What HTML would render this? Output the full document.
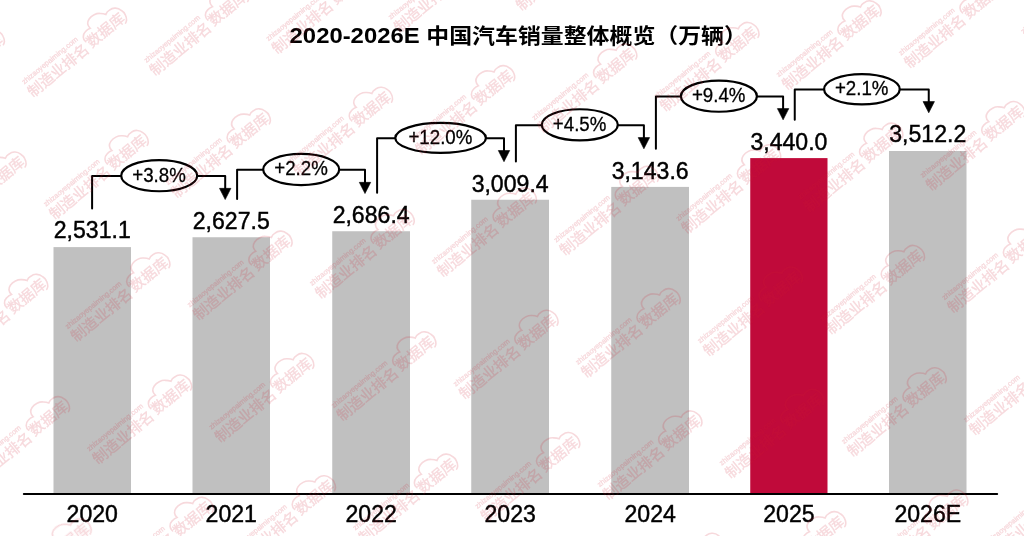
<!DOCTYPE html>
<html lang="zh-CN"><head><meta charset="utf-8">
<title>2020-2026E 中国汽车销量整体概览（万辆）</title>
<style>
html,body{margin:0;padding:0;background:#fff;}
body{width:1024px;height:536px;overflow:hidden;}
svg{display:block;}
text{font-family:"Liberation Sans","Noto Sans CJK SC",sans-serif;}
.v{font-size:23.8px;text-anchor:middle;fill:#000;stroke:#000;stroke-width:.45px;}
.p{font-size:19.7px;text-anchor:middle;fill:#000;stroke:#000;stroke-width:.3px;}
.t{font-weight:700;fill:#000;}
.ln{fill:none;stroke:#000;stroke-width:2;stroke-linejoin:round;stroke-linecap:round;}
.ah{fill:#000;stroke:#000;stroke-width:.6;stroke-linejoin:round;}
.el{fill:#fff;stroke:#000;stroke-width:2.2;}
.wm{fill:#cf2034;opacity:0.17;}
.wm text.a{font-size:14.8px;}
.wm text.u{font-size:7.3px;}
.wm path{fill:none;stroke:#cf2034;stroke-width:1.6;stroke-linecap:round;}
.wm text{stroke:#cf2034;stroke-width:.35px;}
</style></head><body>
<svg width="1024" height="536" viewBox="0 0 1024 536">
<rect width="1024" height="536" fill="#fff"/>
<text class="t" y="42.9"><tspan x="289.6" font-size="22.2" textLength="130" lengthAdjust="spacingAndGlyphs">2020-2026E</tspan><tspan font-size="20.9"> </tspan><tspan x="426.3" font-size="20.9" textLength="320.6" lengthAdjust="spacingAndGlyphs">中国汽车销量整体概览（万辆）</tspan></text>
<rect x="53.5" y="247.1" width="77.5" height="246.4" fill="#c0c0c0"/>
<rect x="192.5" y="237.25" width="77.5" height="256.25" fill="#c0c0c0"/>
<rect x="332.25" y="231.25" width="77.75" height="262.25" fill="#c0c0c0"/>
<rect x="471.25" y="199.75" width="77.75" height="293.75" fill="#c0c0c0"/>
<rect x="611.25" y="186.9" width="77.75" height="306.6" fill="#c0c0c0"/>
<rect x="750.25" y="158.1" width="77.25" height="335.4" fill="#c00a3a"/>
<rect x="889" y="151" width="77.5" height="342.5" fill="#c0c0c0"/>
<line x1="23.9" y1="494" x2="997.1" y2="494" stroke="#000" stroke-width="2.2" stroke-linecap="round"/>
<text class="v" transform="translate(92.25 238.2) scale(0.97 1)">2,531.1</text>
<text class="v" transform="translate(92.25 521.5) scale(0.97 1)">2020</text>
<text class="v" transform="translate(231.25 229.25) scale(0.97 1)">2,627.5</text>
<text class="v" transform="translate(231.25 521.5) scale(0.97 1)">2021</text>
<text class="v" transform="translate(371.12 223.25) scale(0.97 1)">2,686.4</text>
<text class="v" transform="translate(371.12 521.5) scale(0.97 1)">2022</text>
<text class="v" transform="translate(510.12 191.75) scale(0.97 1)">3,009.4</text>
<text class="v" transform="translate(510.12 521.5) scale(0.97 1)">2023</text>
<text class="v" transform="translate(650.12 178.9) scale(0.97 1)">3,143.6</text>
<text class="v" transform="translate(650.12 521.5) scale(0.97 1)">2024</text>
<text class="v" transform="translate(788.88 150.1) scale(0.97 1)">3,440.0</text>
<text class="v" transform="translate(788.88 521.5) scale(0.97 1)">2025</text>
<text class="v" transform="translate(927.75 142) scale(0.97 1)">3,512.2</text>
<text class="v" transform="translate(927.75 521.5) scale(0.97 1)">2026E</text>
<path class="ln" d="M92.1 208.5V175.95H225.2V191.75"/>
<path class="ah" d="M219.5 188.35h11.4l-5.7 11.2z"/>
<ellipse class="el" cx="159.2" cy="175.65" rx="38" ry="15.6"/>
<text class="p" transform="translate(159 181.55) scale(0.95 1)">+3.8%</text>
<path class="ln" d="M237.1 199.1V169.75H365V185.75"/>
<path class="ah" d="M359.3 182.35h11.4l-5.7 11.2z"/>
<ellipse class="el" cx="301.2" cy="169.45" rx="38" ry="15.6"/>
<text class="p" transform="translate(301 175.35) scale(0.95 1)">+2.2%</text>
<path class="ln" d="M377.1 192.85V138.25H504V153.9"/>
<path class="ah" d="M498.3 150.5h11.4l-5.7 11.2z"/>
<ellipse class="el" cx="440.6" cy="137.95" rx="45.3" ry="15"/>
<text class="p" transform="translate(440.4 143.85) scale(0.95 1)">+12.0%</text>
<path class="ln" d="M515.9 161.6V125.15H643.9V141"/>
<path class="ah" d="M638.2 137.6h11.4l-5.7 11.2z"/>
<ellipse class="el" cx="579.8" cy="124.85" rx="38" ry="15.6"/>
<text class="p" transform="translate(579.6 130.75) scale(0.95 1)">+4.5%</text>
<path class="ln" d="M655.9 148.85V96.45H783.1V112"/>
<path class="ah" d="M777.4 108.6h11.4l-5.7 11.2z"/>
<ellipse class="el" cx="718.9" cy="96.15" rx="38" ry="15.6"/>
<text class="p" transform="translate(718.7 102.05) scale(0.95 1)">+9.4%</text>
<path class="ln" d="M794.75 119.7V89.55H928.75V105"/>
<path class="ah" d="M923.05 101.6h11.4l-5.7 11.2z"/>
<ellipse class="el" cx="861.9" cy="89.25" rx="37.8" ry="15.2"/>
<text class="p" transform="translate(861.7 95.15) scale(0.95 1)">+2.1%</text>
<g class="wm">
<g transform="translate(-108.55 -11.5) rotate(-39.3)"><text class="u" x="-5.6" y="-10.6">zhizaoyepaiming.com</text><text class="a" x="-7.4" y="5.3">制造业排名</text><text class="a" x="69.6" y="3.9">数据库</text><path transform="translate(92.1 -1.6)" d="M-23 -3.2C-24 -7 -21 -10.8 -17 -11.2C-15 -11.6 -12.6 -11.4 -11 -10.8C-11.4 -14.5 -9.4 -17.6 -6 -18.6C-2 -19.8 3.5 -18.5 6 -16C7.8 -14.6 9 -13.2 9.9 -11.6C11.5 -12.6 13.5 -13 15.4 -12.6C18 -12.6 20 -11.6 21.2 -10.4C23 -9 24 -7 24.4 -4.7C25.2 -2.6 25.2 -0.8 24.6 1.1C24.2 3 23.4 4.6 22.3 5.9C21.5 6.7 20.6 7.3 19.6 7.6"/></g>
<g transform="translate(-86.85 110.8) rotate(-39.3)"><text class="u" x="-5.6" y="-10.6">zhizaoyepaiming.com</text><text class="a" x="-7.4" y="5.3">制造业排名</text><text class="a" x="69.6" y="3.9">数据库</text><path transform="translate(92.1 -1.6)" d="M-23 -3.2C-24 -7 -21 -10.8 -17 -11.2C-15 -11.6 -12.6 -11.4 -11 -10.8C-11.4 -14.5 -9.4 -17.6 -6 -18.6C-2 -19.8 3.5 -18.5 6 -16C7.8 -14.6 9 -13.2 9.9 -11.6C11.5 -12.6 13.5 -13 15.4 -12.6C18 -12.6 20 -11.6 21.2 -10.4C23 -9 24 -7 24.4 -4.7C25.2 -2.6 25.2 -0.8 24.6 1.1C24.2 3 23.4 4.6 22.3 5.9C21.5 6.7 20.6 7.3 19.6 7.6"/></g>
<g transform="translate(-65.15 233.1) rotate(-39.3)"><text class="u" x="-5.6" y="-10.6">zhizaoyepaiming.com</text><text class="a" x="-7.4" y="5.3">制造业排名</text><text class="a" x="69.6" y="3.9">数据库</text><path transform="translate(92.1 -1.6)" d="M-23 -3.2C-24 -7 -21 -10.8 -17 -11.2C-15 -11.6 -12.6 -11.4 -11 -10.8C-11.4 -14.5 -9.4 -17.6 -6 -18.6C-2 -19.8 3.5 -18.5 6 -16C7.8 -14.6 9 -13.2 9.9 -11.6C11.5 -12.6 13.5 -13 15.4 -12.6C18 -12.6 20 -11.6 21.2 -10.4C23 -9 24 -7 24.4 -4.7C25.2 -2.6 25.2 -0.8 24.6 1.1C24.2 3 23.4 4.6 22.3 5.9C21.5 6.7 20.6 7.3 19.6 7.6"/></g>
<g transform="translate(-43.45 355.4) rotate(-39.3)"><text class="u" x="-5.6" y="-10.6">zhizaoyepaiming.com</text><text class="a" x="-7.4" y="5.3">制造业排名</text><text class="a" x="69.6" y="3.9">数据库</text><path transform="translate(92.1 -1.6)" d="M-23 -3.2C-24 -7 -21 -10.8 -17 -11.2C-15 -11.6 -12.6 -11.4 -11 -10.8C-11.4 -14.5 -9.4 -17.6 -6 -18.6C-2 -19.8 3.5 -18.5 6 -16C7.8 -14.6 9 -13.2 9.9 -11.6C11.5 -12.6 13.5 -13 15.4 -12.6C18 -12.6 20 -11.6 21.2 -10.4C23 -9 24 -7 24.4 -4.7C25.2 -2.6 25.2 -0.8 24.6 1.1C24.2 3 23.4 4.6 22.3 5.9C21.5 6.7 20.6 7.3 19.6 7.6"/></g>
<g transform="translate(-21.75 477.7) rotate(-39.3)"><text class="u" x="-5.6" y="-10.6">zhizaoyepaiming.com</text><text class="a" x="-7.4" y="5.3">制造业排名</text><text class="a" x="69.6" y="3.9">数据库</text><path transform="translate(92.1 -1.6)" d="M-23 -3.2C-24 -7 -21 -10.8 -17 -11.2C-15 -11.6 -12.6 -11.4 -11 -10.8C-11.4 -14.5 -9.4 -17.6 -6 -18.6C-2 -19.8 3.5 -18.5 6 -16C7.8 -14.6 9 -13.2 9.9 -11.6C11.5 -12.6 13.5 -13 15.4 -12.6C18 -12.6 20 -11.6 21.2 -10.4C23 -9 24 -7 24.4 -4.7C25.2 -2.6 25.2 -0.8 24.6 1.1C24.2 3 23.4 4.6 22.3 5.9C21.5 6.7 20.6 7.3 19.6 7.6"/></g>
<g transform="translate(-0.05 600) rotate(-39.3)"><text class="u" x="-5.6" y="-10.6">zhizaoyepaiming.com</text><text class="a" x="-7.4" y="5.3">制造业排名</text><text class="a" x="69.6" y="3.9">数据库</text><path transform="translate(92.1 -1.6)" d="M-23 -3.2C-24 -7 -21 -10.8 -17 -11.2C-15 -11.6 -12.6 -11.4 -11 -10.8C-11.4 -14.5 -9.4 -17.6 -6 -18.6C-2 -19.8 3.5 -18.5 6 -16C7.8 -14.6 9 -13.2 9.9 -11.6C11.5 -12.6 13.5 -13 15.4 -12.6C18 -12.6 20 -11.6 21.2 -10.4C23 -9 24 -7 24.4 -4.7C25.2 -2.6 25.2 -0.8 24.6 1.1C24.2 3 23.4 4.6 22.3 5.9C21.5 6.7 20.6 7.3 19.6 7.6"/></g>
<g transform="translate(35.3 89.2) rotate(-39.3)"><text class="u" x="-5.6" y="-10.6">zhizaoyepaiming.com</text><text class="a" x="-7.4" y="5.3">制造业排名</text><text class="a" x="69.6" y="3.9">数据库</text><path transform="translate(92.1 -1.6)" d="M-23 -3.2C-24 -7 -21 -10.8 -17 -11.2C-15 -11.6 -12.6 -11.4 -11 -10.8C-11.4 -14.5 -9.4 -17.6 -6 -18.6C-2 -19.8 3.5 -18.5 6 -16C7.8 -14.6 9 -13.2 9.9 -11.6C11.5 -12.6 13.5 -13 15.4 -12.6C18 -12.6 20 -11.6 21.2 -10.4C23 -9 24 -7 24.4 -4.7C25.2 -2.6 25.2 -0.8 24.6 1.1C24.2 3 23.4 4.6 22.3 5.9C21.5 6.7 20.6 7.3 19.6 7.6"/></g>
<g transform="translate(57 211.5) rotate(-39.3)"><text class="u" x="-5.6" y="-10.6">zhizaoyepaiming.com</text><text class="a" x="-7.4" y="5.3">制造业排名</text><text class="a" x="69.6" y="3.9">数据库</text><path transform="translate(92.1 -1.6)" d="M-23 -3.2C-24 -7 -21 -10.8 -17 -11.2C-15 -11.6 -12.6 -11.4 -11 -10.8C-11.4 -14.5 -9.4 -17.6 -6 -18.6C-2 -19.8 3.5 -18.5 6 -16C7.8 -14.6 9 -13.2 9.9 -11.6C11.5 -12.6 13.5 -13 15.4 -12.6C18 -12.6 20 -11.6 21.2 -10.4C23 -9 24 -7 24.4 -4.7C25.2 -2.6 25.2 -0.8 24.6 1.1C24.2 3 23.4 4.6 22.3 5.9C21.5 6.7 20.6 7.3 19.6 7.6"/></g>
<g transform="translate(78.7 333.8) rotate(-39.3)"><text class="u" x="-5.6" y="-10.6">zhizaoyepaiming.com</text><text class="a" x="-7.4" y="5.3">制造业排名</text><text class="a" x="69.6" y="3.9">数据库</text><path transform="translate(92.1 -1.6)" d="M-23 -3.2C-24 -7 -21 -10.8 -17 -11.2C-15 -11.6 -12.6 -11.4 -11 -10.8C-11.4 -14.5 -9.4 -17.6 -6 -18.6C-2 -19.8 3.5 -18.5 6 -16C7.8 -14.6 9 -13.2 9.9 -11.6C11.5 -12.6 13.5 -13 15.4 -12.6C18 -12.6 20 -11.6 21.2 -10.4C23 -9 24 -7 24.4 -4.7C25.2 -2.6 25.2 -0.8 24.6 1.1C24.2 3 23.4 4.6 22.3 5.9C21.5 6.7 20.6 7.3 19.6 7.6"/></g>
<g transform="translate(100.4 456.1) rotate(-39.3)"><text class="u" x="-5.6" y="-10.6">zhizaoyepaiming.com</text><text class="a" x="-7.4" y="5.3">制造业排名</text><text class="a" x="69.6" y="3.9">数据库</text><path transform="translate(92.1 -1.6)" d="M-23 -3.2C-24 -7 -21 -10.8 -17 -11.2C-15 -11.6 -12.6 -11.4 -11 -10.8C-11.4 -14.5 -9.4 -17.6 -6 -18.6C-2 -19.8 3.5 -18.5 6 -16C7.8 -14.6 9 -13.2 9.9 -11.6C11.5 -12.6 13.5 -13 15.4 -12.6C18 -12.6 20 -11.6 21.2 -10.4C23 -9 24 -7 24.4 -4.7C25.2 -2.6 25.2 -0.8 24.6 1.1C24.2 3 23.4 4.6 22.3 5.9C21.5 6.7 20.6 7.3 19.6 7.6"/></g>
<g transform="translate(122.1 578.4) rotate(-39.3)"><text class="u" x="-5.6" y="-10.6">zhizaoyepaiming.com</text><text class="a" x="-7.4" y="5.3">制造业排名</text><text class="a" x="69.6" y="3.9">数据库</text><path transform="translate(92.1 -1.6)" d="M-23 -3.2C-24 -7 -21 -10.8 -17 -11.2C-15 -11.6 -12.6 -11.4 -11 -10.8C-11.4 -14.5 -9.4 -17.6 -6 -18.6C-2 -19.8 3.5 -18.5 6 -16C7.8 -14.6 9 -13.2 9.9 -11.6C11.5 -12.6 13.5 -13 15.4 -12.6C18 -12.6 20 -11.6 21.2 -10.4C23 -9 24 -7 24.4 -4.7C25.2 -2.6 25.2 -0.8 24.6 1.1C24.2 3 23.4 4.6 22.3 5.9C21.5 6.7 20.6 7.3 19.6 7.6"/></g>
<g transform="translate(157.45 67.6) rotate(-39.3)"><text class="u" x="-5.6" y="-10.6">zhizaoyepaiming.com</text><text class="a" x="-7.4" y="5.3">制造业排名</text><text class="a" x="69.6" y="3.9">数据库</text><path transform="translate(92.1 -1.6)" d="M-23 -3.2C-24 -7 -21 -10.8 -17 -11.2C-15 -11.6 -12.6 -11.4 -11 -10.8C-11.4 -14.5 -9.4 -17.6 -6 -18.6C-2 -19.8 3.5 -18.5 6 -16C7.8 -14.6 9 -13.2 9.9 -11.6C11.5 -12.6 13.5 -13 15.4 -12.6C18 -12.6 20 -11.6 21.2 -10.4C23 -9 24 -7 24.4 -4.7C25.2 -2.6 25.2 -0.8 24.6 1.1C24.2 3 23.4 4.6 22.3 5.9C21.5 6.7 20.6 7.3 19.6 7.6"/></g>
<g transform="translate(179.15 189.9) rotate(-39.3)"><text class="u" x="-5.6" y="-10.6">zhizaoyepaiming.com</text><text class="a" x="-7.4" y="5.3">制造业排名</text><text class="a" x="69.6" y="3.9">数据库</text><path transform="translate(92.1 -1.6)" d="M-23 -3.2C-24 -7 -21 -10.8 -17 -11.2C-15 -11.6 -12.6 -11.4 -11 -10.8C-11.4 -14.5 -9.4 -17.6 -6 -18.6C-2 -19.8 3.5 -18.5 6 -16C7.8 -14.6 9 -13.2 9.9 -11.6C11.5 -12.6 13.5 -13 15.4 -12.6C18 -12.6 20 -11.6 21.2 -10.4C23 -9 24 -7 24.4 -4.7C25.2 -2.6 25.2 -0.8 24.6 1.1C24.2 3 23.4 4.6 22.3 5.9C21.5 6.7 20.6 7.3 19.6 7.6"/></g>
<g transform="translate(200.85 312.2) rotate(-39.3)"><text class="u" x="-5.6" y="-10.6">zhizaoyepaiming.com</text><text class="a" x="-7.4" y="5.3">制造业排名</text><text class="a" x="69.6" y="3.9">数据库</text><path transform="translate(92.1 -1.6)" d="M-23 -3.2C-24 -7 -21 -10.8 -17 -11.2C-15 -11.6 -12.6 -11.4 -11 -10.8C-11.4 -14.5 -9.4 -17.6 -6 -18.6C-2 -19.8 3.5 -18.5 6 -16C7.8 -14.6 9 -13.2 9.9 -11.6C11.5 -12.6 13.5 -13 15.4 -12.6C18 -12.6 20 -11.6 21.2 -10.4C23 -9 24 -7 24.4 -4.7C25.2 -2.6 25.2 -0.8 24.6 1.1C24.2 3 23.4 4.6 22.3 5.9C21.5 6.7 20.6 7.3 19.6 7.6"/></g>
<g transform="translate(222.55 434.5) rotate(-39.3)"><text class="u" x="-5.6" y="-10.6">zhizaoyepaiming.com</text><text class="a" x="-7.4" y="5.3">制造业排名</text><text class="a" x="69.6" y="3.9">数据库</text><path transform="translate(92.1 -1.6)" d="M-23 -3.2C-24 -7 -21 -10.8 -17 -11.2C-15 -11.6 -12.6 -11.4 -11 -10.8C-11.4 -14.5 -9.4 -17.6 -6 -18.6C-2 -19.8 3.5 -18.5 6 -16C7.8 -14.6 9 -13.2 9.9 -11.6C11.5 -12.6 13.5 -13 15.4 -12.6C18 -12.6 20 -11.6 21.2 -10.4C23 -9 24 -7 24.4 -4.7C25.2 -2.6 25.2 -0.8 24.6 1.1C24.2 3 23.4 4.6 22.3 5.9C21.5 6.7 20.6 7.3 19.6 7.6"/></g>
<g transform="translate(244.25 556.8) rotate(-39.3)"><text class="u" x="-5.6" y="-10.6">zhizaoyepaiming.com</text><text class="a" x="-7.4" y="5.3">制造业排名</text><text class="a" x="69.6" y="3.9">数据库</text><path transform="translate(92.1 -1.6)" d="M-23 -3.2C-24 -7 -21 -10.8 -17 -11.2C-15 -11.6 -12.6 -11.4 -11 -10.8C-11.4 -14.5 -9.4 -17.6 -6 -18.6C-2 -19.8 3.5 -18.5 6 -16C7.8 -14.6 9 -13.2 9.9 -11.6C11.5 -12.6 13.5 -13 15.4 -12.6C18 -12.6 20 -11.6 21.2 -10.4C23 -9 24 -7 24.4 -4.7C25.2 -2.6 25.2 -0.8 24.6 1.1C24.2 3 23.4 4.6 22.3 5.9C21.5 6.7 20.6 7.3 19.6 7.6"/></g>
<g transform="translate(279.6 46) rotate(-39.3)"><text class="u" x="-5.6" y="-10.6">zhizaoyepaiming.com</text><text class="a" x="-7.4" y="5.3">制造业排名</text><text class="a" x="69.6" y="3.9">数据库</text><path transform="translate(92.1 -1.6)" d="M-23 -3.2C-24 -7 -21 -10.8 -17 -11.2C-15 -11.6 -12.6 -11.4 -11 -10.8C-11.4 -14.5 -9.4 -17.6 -6 -18.6C-2 -19.8 3.5 -18.5 6 -16C7.8 -14.6 9 -13.2 9.9 -11.6C11.5 -12.6 13.5 -13 15.4 -12.6C18 -12.6 20 -11.6 21.2 -10.4C23 -9 24 -7 24.4 -4.7C25.2 -2.6 25.2 -0.8 24.6 1.1C24.2 3 23.4 4.6 22.3 5.9C21.5 6.7 20.6 7.3 19.6 7.6"/></g>
<g transform="translate(301.3 168.3) rotate(-39.3)"><text class="u" x="-5.6" y="-10.6">zhizaoyepaiming.com</text><text class="a" x="-7.4" y="5.3">制造业排名</text><text class="a" x="69.6" y="3.9">数据库</text><path transform="translate(92.1 -1.6)" d="M-23 -3.2C-24 -7 -21 -10.8 -17 -11.2C-15 -11.6 -12.6 -11.4 -11 -10.8C-11.4 -14.5 -9.4 -17.6 -6 -18.6C-2 -19.8 3.5 -18.5 6 -16C7.8 -14.6 9 -13.2 9.9 -11.6C11.5 -12.6 13.5 -13 15.4 -12.6C18 -12.6 20 -11.6 21.2 -10.4C23 -9 24 -7 24.4 -4.7C25.2 -2.6 25.2 -0.8 24.6 1.1C24.2 3 23.4 4.6 22.3 5.9C21.5 6.7 20.6 7.3 19.6 7.6"/></g>
<g transform="translate(323 290.6) rotate(-39.3)"><text class="u" x="-5.6" y="-10.6">zhizaoyepaiming.com</text><text class="a" x="-7.4" y="5.3">制造业排名</text><text class="a" x="69.6" y="3.9">数据库</text><path transform="translate(92.1 -1.6)" d="M-23 -3.2C-24 -7 -21 -10.8 -17 -11.2C-15 -11.6 -12.6 -11.4 -11 -10.8C-11.4 -14.5 -9.4 -17.6 -6 -18.6C-2 -19.8 3.5 -18.5 6 -16C7.8 -14.6 9 -13.2 9.9 -11.6C11.5 -12.6 13.5 -13 15.4 -12.6C18 -12.6 20 -11.6 21.2 -10.4C23 -9 24 -7 24.4 -4.7C25.2 -2.6 25.2 -0.8 24.6 1.1C24.2 3 23.4 4.6 22.3 5.9C21.5 6.7 20.6 7.3 19.6 7.6"/></g>
<g transform="translate(344.7 412.9) rotate(-39.3)"><text class="u" x="-5.6" y="-10.6">zhizaoyepaiming.com</text><text class="a" x="-7.4" y="5.3">制造业排名</text><text class="a" x="69.6" y="3.9">数据库</text><path transform="translate(92.1 -1.6)" d="M-23 -3.2C-24 -7 -21 -10.8 -17 -11.2C-15 -11.6 -12.6 -11.4 -11 -10.8C-11.4 -14.5 -9.4 -17.6 -6 -18.6C-2 -19.8 3.5 -18.5 6 -16C7.8 -14.6 9 -13.2 9.9 -11.6C11.5 -12.6 13.5 -13 15.4 -12.6C18 -12.6 20 -11.6 21.2 -10.4C23 -9 24 -7 24.4 -4.7C25.2 -2.6 25.2 -0.8 24.6 1.1C24.2 3 23.4 4.6 22.3 5.9C21.5 6.7 20.6 7.3 19.6 7.6"/></g>
<g transform="translate(366.4 535.2) rotate(-39.3)"><text class="u" x="-5.6" y="-10.6">zhizaoyepaiming.com</text><text class="a" x="-7.4" y="5.3">制造业排名</text><text class="a" x="69.6" y="3.9">数据库</text><path transform="translate(92.1 -1.6)" d="M-23 -3.2C-24 -7 -21 -10.8 -17 -11.2C-15 -11.6 -12.6 -11.4 -11 -10.8C-11.4 -14.5 -9.4 -17.6 -6 -18.6C-2 -19.8 3.5 -18.5 6 -16C7.8 -14.6 9 -13.2 9.9 -11.6C11.5 -12.6 13.5 -13 15.4 -12.6C18 -12.6 20 -11.6 21.2 -10.4C23 -9 24 -7 24.4 -4.7C25.2 -2.6 25.2 -0.8 24.6 1.1C24.2 3 23.4 4.6 22.3 5.9C21.5 6.7 20.6 7.3 19.6 7.6"/></g>
<g transform="translate(401.75 24.4) rotate(-39.3)"><text class="u" x="-5.6" y="-10.6">zhizaoyepaiming.com</text><text class="a" x="-7.4" y="5.3">制造业排名</text><text class="a" x="69.6" y="3.9">数据库</text><path transform="translate(92.1 -1.6)" d="M-23 -3.2C-24 -7 -21 -10.8 -17 -11.2C-15 -11.6 -12.6 -11.4 -11 -10.8C-11.4 -14.5 -9.4 -17.6 -6 -18.6C-2 -19.8 3.5 -18.5 6 -16C7.8 -14.6 9 -13.2 9.9 -11.6C11.5 -12.6 13.5 -13 15.4 -12.6C18 -12.6 20 -11.6 21.2 -10.4C23 -9 24 -7 24.4 -4.7C25.2 -2.6 25.2 -0.8 24.6 1.1C24.2 3 23.4 4.6 22.3 5.9C21.5 6.7 20.6 7.3 19.6 7.6"/></g>
<g transform="translate(423.45 146.7) rotate(-39.3)"><text class="u" x="-5.6" y="-10.6">zhizaoyepaiming.com</text><text class="a" x="-7.4" y="5.3">制造业排名</text><text class="a" x="69.6" y="3.9">数据库</text><path transform="translate(92.1 -1.6)" d="M-23 -3.2C-24 -7 -21 -10.8 -17 -11.2C-15 -11.6 -12.6 -11.4 -11 -10.8C-11.4 -14.5 -9.4 -17.6 -6 -18.6C-2 -19.8 3.5 -18.5 6 -16C7.8 -14.6 9 -13.2 9.9 -11.6C11.5 -12.6 13.5 -13 15.4 -12.6C18 -12.6 20 -11.6 21.2 -10.4C23 -9 24 -7 24.4 -4.7C25.2 -2.6 25.2 -0.8 24.6 1.1C24.2 3 23.4 4.6 22.3 5.9C21.5 6.7 20.6 7.3 19.6 7.6"/></g>
<g transform="translate(445.15 269) rotate(-39.3)"><text class="u" x="-5.6" y="-10.6">zhizaoyepaiming.com</text><text class="a" x="-7.4" y="5.3">制造业排名</text><text class="a" x="69.6" y="3.9">数据库</text><path transform="translate(92.1 -1.6)" d="M-23 -3.2C-24 -7 -21 -10.8 -17 -11.2C-15 -11.6 -12.6 -11.4 -11 -10.8C-11.4 -14.5 -9.4 -17.6 -6 -18.6C-2 -19.8 3.5 -18.5 6 -16C7.8 -14.6 9 -13.2 9.9 -11.6C11.5 -12.6 13.5 -13 15.4 -12.6C18 -12.6 20 -11.6 21.2 -10.4C23 -9 24 -7 24.4 -4.7C25.2 -2.6 25.2 -0.8 24.6 1.1C24.2 3 23.4 4.6 22.3 5.9C21.5 6.7 20.6 7.3 19.6 7.6"/></g>
<g transform="translate(466.85 391.3) rotate(-39.3)"><text class="u" x="-5.6" y="-10.6">zhizaoyepaiming.com</text><text class="a" x="-7.4" y="5.3">制造业排名</text><text class="a" x="69.6" y="3.9">数据库</text><path transform="translate(92.1 -1.6)" d="M-23 -3.2C-24 -7 -21 -10.8 -17 -11.2C-15 -11.6 -12.6 -11.4 -11 -10.8C-11.4 -14.5 -9.4 -17.6 -6 -18.6C-2 -19.8 3.5 -18.5 6 -16C7.8 -14.6 9 -13.2 9.9 -11.6C11.5 -12.6 13.5 -13 15.4 -12.6C18 -12.6 20 -11.6 21.2 -10.4C23 -9 24 -7 24.4 -4.7C25.2 -2.6 25.2 -0.8 24.6 1.1C24.2 3 23.4 4.6 22.3 5.9C21.5 6.7 20.6 7.3 19.6 7.6"/></g>
<g transform="translate(488.55 513.6) rotate(-39.3)"><text class="u" x="-5.6" y="-10.6">zhizaoyepaiming.com</text><text class="a" x="-7.4" y="5.3">制造业排名</text><text class="a" x="69.6" y="3.9">数据库</text><path transform="translate(92.1 -1.6)" d="M-23 -3.2C-24 -7 -21 -10.8 -17 -11.2C-15 -11.6 -12.6 -11.4 -11 -10.8C-11.4 -14.5 -9.4 -17.6 -6 -18.6C-2 -19.8 3.5 -18.5 6 -16C7.8 -14.6 9 -13.2 9.9 -11.6C11.5 -12.6 13.5 -13 15.4 -12.6C18 -12.6 20 -11.6 21.2 -10.4C23 -9 24 -7 24.4 -4.7C25.2 -2.6 25.2 -0.8 24.6 1.1C24.2 3 23.4 4.6 22.3 5.9C21.5 6.7 20.6 7.3 19.6 7.6"/></g>
<g transform="translate(523.9 2.8) rotate(-39.3)"><text class="u" x="-5.6" y="-10.6">zhizaoyepaiming.com</text><text class="a" x="-7.4" y="5.3">制造业排名</text><text class="a" x="69.6" y="3.9">数据库</text><path transform="translate(92.1 -1.6)" d="M-23 -3.2C-24 -7 -21 -10.8 -17 -11.2C-15 -11.6 -12.6 -11.4 -11 -10.8C-11.4 -14.5 -9.4 -17.6 -6 -18.6C-2 -19.8 3.5 -18.5 6 -16C7.8 -14.6 9 -13.2 9.9 -11.6C11.5 -12.6 13.5 -13 15.4 -12.6C18 -12.6 20 -11.6 21.2 -10.4C23 -9 24 -7 24.4 -4.7C25.2 -2.6 25.2 -0.8 24.6 1.1C24.2 3 23.4 4.6 22.3 5.9C21.5 6.7 20.6 7.3 19.6 7.6"/></g>
<g transform="translate(545.6 125.1) rotate(-39.3)"><text class="u" x="-5.6" y="-10.6">zhizaoyepaiming.com</text><text class="a" x="-7.4" y="5.3">制造业排名</text><text class="a" x="69.6" y="3.9">数据库</text><path transform="translate(92.1 -1.6)" d="M-23 -3.2C-24 -7 -21 -10.8 -17 -11.2C-15 -11.6 -12.6 -11.4 -11 -10.8C-11.4 -14.5 -9.4 -17.6 -6 -18.6C-2 -19.8 3.5 -18.5 6 -16C7.8 -14.6 9 -13.2 9.9 -11.6C11.5 -12.6 13.5 -13 15.4 -12.6C18 -12.6 20 -11.6 21.2 -10.4C23 -9 24 -7 24.4 -4.7C25.2 -2.6 25.2 -0.8 24.6 1.1C24.2 3 23.4 4.6 22.3 5.9C21.5 6.7 20.6 7.3 19.6 7.6"/></g>
<g transform="translate(567.3 247.4) rotate(-39.3)"><text class="u" x="-5.6" y="-10.6">zhizaoyepaiming.com</text><text class="a" x="-7.4" y="5.3">制造业排名</text><text class="a" x="69.6" y="3.9">数据库</text><path transform="translate(92.1 -1.6)" d="M-23 -3.2C-24 -7 -21 -10.8 -17 -11.2C-15 -11.6 -12.6 -11.4 -11 -10.8C-11.4 -14.5 -9.4 -17.6 -6 -18.6C-2 -19.8 3.5 -18.5 6 -16C7.8 -14.6 9 -13.2 9.9 -11.6C11.5 -12.6 13.5 -13 15.4 -12.6C18 -12.6 20 -11.6 21.2 -10.4C23 -9 24 -7 24.4 -4.7C25.2 -2.6 25.2 -0.8 24.6 1.1C24.2 3 23.4 4.6 22.3 5.9C21.5 6.7 20.6 7.3 19.6 7.6"/></g>
<g transform="translate(589 369.7) rotate(-39.3)"><text class="u" x="-5.6" y="-10.6">zhizaoyepaiming.com</text><text class="a" x="-7.4" y="5.3">制造业排名</text><text class="a" x="69.6" y="3.9">数据库</text><path transform="translate(92.1 -1.6)" d="M-23 -3.2C-24 -7 -21 -10.8 -17 -11.2C-15 -11.6 -12.6 -11.4 -11 -10.8C-11.4 -14.5 -9.4 -17.6 -6 -18.6C-2 -19.8 3.5 -18.5 6 -16C7.8 -14.6 9 -13.2 9.9 -11.6C11.5 -12.6 13.5 -13 15.4 -12.6C18 -12.6 20 -11.6 21.2 -10.4C23 -9 24 -7 24.4 -4.7C25.2 -2.6 25.2 -0.8 24.6 1.1C24.2 3 23.4 4.6 22.3 5.9C21.5 6.7 20.6 7.3 19.6 7.6"/></g>
<g transform="translate(610.7 492) rotate(-39.3)"><text class="u" x="-5.6" y="-10.6">zhizaoyepaiming.com</text><text class="a" x="-7.4" y="5.3">制造业排名</text><text class="a" x="69.6" y="3.9">数据库</text><path transform="translate(92.1 -1.6)" d="M-23 -3.2C-24 -7 -21 -10.8 -17 -11.2C-15 -11.6 -12.6 -11.4 -11 -10.8C-11.4 -14.5 -9.4 -17.6 -6 -18.6C-2 -19.8 3.5 -18.5 6 -16C7.8 -14.6 9 -13.2 9.9 -11.6C11.5 -12.6 13.5 -13 15.4 -12.6C18 -12.6 20 -11.6 21.2 -10.4C23 -9 24 -7 24.4 -4.7C25.2 -2.6 25.2 -0.8 24.6 1.1C24.2 3 23.4 4.6 22.3 5.9C21.5 6.7 20.6 7.3 19.6 7.6"/></g>
<g transform="translate(632.4 614.3) rotate(-39.3)"><text class="u" x="-5.6" y="-10.6">zhizaoyepaiming.com</text><text class="a" x="-7.4" y="5.3">制造业排名</text><text class="a" x="69.6" y="3.9">数据库</text><path transform="translate(92.1 -1.6)" d="M-23 -3.2C-24 -7 -21 -10.8 -17 -11.2C-15 -11.6 -12.6 -11.4 -11 -10.8C-11.4 -14.5 -9.4 -17.6 -6 -18.6C-2 -19.8 3.5 -18.5 6 -16C7.8 -14.6 9 -13.2 9.9 -11.6C11.5 -12.6 13.5 -13 15.4 -12.6C18 -12.6 20 -11.6 21.2 -10.4C23 -9 24 -7 24.4 -4.7C25.2 -2.6 25.2 -0.8 24.6 1.1C24.2 3 23.4 4.6 22.3 5.9C21.5 6.7 20.6 7.3 19.6 7.6"/></g>
<g transform="translate(646.05 -18.8) rotate(-39.3)"><text class="u" x="-5.6" y="-10.6">zhizaoyepaiming.com</text><text class="a" x="-7.4" y="5.3">制造业排名</text><text class="a" x="69.6" y="3.9">数据库</text><path transform="translate(92.1 -1.6)" d="M-23 -3.2C-24 -7 -21 -10.8 -17 -11.2C-15 -11.6 -12.6 -11.4 -11 -10.8C-11.4 -14.5 -9.4 -17.6 -6 -18.6C-2 -19.8 3.5 -18.5 6 -16C7.8 -14.6 9 -13.2 9.9 -11.6C11.5 -12.6 13.5 -13 15.4 -12.6C18 -12.6 20 -11.6 21.2 -10.4C23 -9 24 -7 24.4 -4.7C25.2 -2.6 25.2 -0.8 24.6 1.1C24.2 3 23.4 4.6 22.3 5.9C21.5 6.7 20.6 7.3 19.6 7.6"/></g>
<g transform="translate(667.75 103.5) rotate(-39.3)"><text class="u" x="-5.6" y="-10.6">zhizaoyepaiming.com</text><text class="a" x="-7.4" y="5.3">制造业排名</text><text class="a" x="69.6" y="3.9">数据库</text><path transform="translate(92.1 -1.6)" d="M-23 -3.2C-24 -7 -21 -10.8 -17 -11.2C-15 -11.6 -12.6 -11.4 -11 -10.8C-11.4 -14.5 -9.4 -17.6 -6 -18.6C-2 -19.8 3.5 -18.5 6 -16C7.8 -14.6 9 -13.2 9.9 -11.6C11.5 -12.6 13.5 -13 15.4 -12.6C18 -12.6 20 -11.6 21.2 -10.4C23 -9 24 -7 24.4 -4.7C25.2 -2.6 25.2 -0.8 24.6 1.1C24.2 3 23.4 4.6 22.3 5.9C21.5 6.7 20.6 7.3 19.6 7.6"/></g>
<g transform="translate(689.45 225.8) rotate(-39.3)"><text class="u" x="-5.6" y="-10.6">zhizaoyepaiming.com</text><text class="a" x="-7.4" y="5.3">制造业排名</text><text class="a" x="69.6" y="3.9">数据库</text><path transform="translate(92.1 -1.6)" d="M-23 -3.2C-24 -7 -21 -10.8 -17 -11.2C-15 -11.6 -12.6 -11.4 -11 -10.8C-11.4 -14.5 -9.4 -17.6 -6 -18.6C-2 -19.8 3.5 -18.5 6 -16C7.8 -14.6 9 -13.2 9.9 -11.6C11.5 -12.6 13.5 -13 15.4 -12.6C18 -12.6 20 -11.6 21.2 -10.4C23 -9 24 -7 24.4 -4.7C25.2 -2.6 25.2 -0.8 24.6 1.1C24.2 3 23.4 4.6 22.3 5.9C21.5 6.7 20.6 7.3 19.6 7.6"/></g>
<g transform="translate(711.15 348.1) rotate(-39.3)"><text class="u" x="-5.6" y="-10.6">zhizaoyepaiming.com</text><text class="a" x="-7.4" y="5.3">制造业排名</text><text class="a" x="69.6" y="3.9">数据库</text><path transform="translate(92.1 -1.6)" d="M-23 -3.2C-24 -7 -21 -10.8 -17 -11.2C-15 -11.6 -12.6 -11.4 -11 -10.8C-11.4 -14.5 -9.4 -17.6 -6 -18.6C-2 -19.8 3.5 -18.5 6 -16C7.8 -14.6 9 -13.2 9.9 -11.6C11.5 -12.6 13.5 -13 15.4 -12.6C18 -12.6 20 -11.6 21.2 -10.4C23 -9 24 -7 24.4 -4.7C25.2 -2.6 25.2 -0.8 24.6 1.1C24.2 3 23.4 4.6 22.3 5.9C21.5 6.7 20.6 7.3 19.6 7.6"/></g>
<g transform="translate(732.85 470.4) rotate(-39.3)"><text class="u" x="-5.6" y="-10.6">zhizaoyepaiming.com</text><text class="a" x="-7.4" y="5.3">制造业排名</text><text class="a" x="69.6" y="3.9">数据库</text><path transform="translate(92.1 -1.6)" d="M-23 -3.2C-24 -7 -21 -10.8 -17 -11.2C-15 -11.6 -12.6 -11.4 -11 -10.8C-11.4 -14.5 -9.4 -17.6 -6 -18.6C-2 -19.8 3.5 -18.5 6 -16C7.8 -14.6 9 -13.2 9.9 -11.6C11.5 -12.6 13.5 -13 15.4 -12.6C18 -12.6 20 -11.6 21.2 -10.4C23 -9 24 -7 24.4 -4.7C25.2 -2.6 25.2 -0.8 24.6 1.1C24.2 3 23.4 4.6 22.3 5.9C21.5 6.7 20.6 7.3 19.6 7.6"/></g>
<g transform="translate(754.55 592.7) rotate(-39.3)"><text class="u" x="-5.6" y="-10.6">zhizaoyepaiming.com</text><text class="a" x="-7.4" y="5.3">制造业排名</text><text class="a" x="69.6" y="3.9">数据库</text><path transform="translate(92.1 -1.6)" d="M-23 -3.2C-24 -7 -21 -10.8 -17 -11.2C-15 -11.6 -12.6 -11.4 -11 -10.8C-11.4 -14.5 -9.4 -17.6 -6 -18.6C-2 -19.8 3.5 -18.5 6 -16C7.8 -14.6 9 -13.2 9.9 -11.6C11.5 -12.6 13.5 -13 15.4 -12.6C18 -12.6 20 -11.6 21.2 -10.4C23 -9 24 -7 24.4 -4.7C25.2 -2.6 25.2 -0.8 24.6 1.1C24.2 3 23.4 4.6 22.3 5.9C21.5 6.7 20.6 7.3 19.6 7.6"/></g>
<g transform="translate(789.9 81.9) rotate(-39.3)"><text class="u" x="-5.6" y="-10.6">zhizaoyepaiming.com</text><text class="a" x="-7.4" y="5.3">制造业排名</text><text class="a" x="69.6" y="3.9">数据库</text><path transform="translate(92.1 -1.6)" d="M-23 -3.2C-24 -7 -21 -10.8 -17 -11.2C-15 -11.6 -12.6 -11.4 -11 -10.8C-11.4 -14.5 -9.4 -17.6 -6 -18.6C-2 -19.8 3.5 -18.5 6 -16C7.8 -14.6 9 -13.2 9.9 -11.6C11.5 -12.6 13.5 -13 15.4 -12.6C18 -12.6 20 -11.6 21.2 -10.4C23 -9 24 -7 24.4 -4.7C25.2 -2.6 25.2 -0.8 24.6 1.1C24.2 3 23.4 4.6 22.3 5.9C21.5 6.7 20.6 7.3 19.6 7.6"/></g>
<g transform="translate(811.6 204.2) rotate(-39.3)"><text class="u" x="-5.6" y="-10.6">zhizaoyepaiming.com</text><text class="a" x="-7.4" y="5.3">制造业排名</text><text class="a" x="69.6" y="3.9">数据库</text><path transform="translate(92.1 -1.6)" d="M-23 -3.2C-24 -7 -21 -10.8 -17 -11.2C-15 -11.6 -12.6 -11.4 -11 -10.8C-11.4 -14.5 -9.4 -17.6 -6 -18.6C-2 -19.8 3.5 -18.5 6 -16C7.8 -14.6 9 -13.2 9.9 -11.6C11.5 -12.6 13.5 -13 15.4 -12.6C18 -12.6 20 -11.6 21.2 -10.4C23 -9 24 -7 24.4 -4.7C25.2 -2.6 25.2 -0.8 24.6 1.1C24.2 3 23.4 4.6 22.3 5.9C21.5 6.7 20.6 7.3 19.6 7.6"/></g>
<g transform="translate(833.3 326.5) rotate(-39.3)"><text class="u" x="-5.6" y="-10.6">zhizaoyepaiming.com</text><text class="a" x="-7.4" y="5.3">制造业排名</text><text class="a" x="69.6" y="3.9">数据库</text><path transform="translate(92.1 -1.6)" d="M-23 -3.2C-24 -7 -21 -10.8 -17 -11.2C-15 -11.6 -12.6 -11.4 -11 -10.8C-11.4 -14.5 -9.4 -17.6 -6 -18.6C-2 -19.8 3.5 -18.5 6 -16C7.8 -14.6 9 -13.2 9.9 -11.6C11.5 -12.6 13.5 -13 15.4 -12.6C18 -12.6 20 -11.6 21.2 -10.4C23 -9 24 -7 24.4 -4.7C25.2 -2.6 25.2 -0.8 24.6 1.1C24.2 3 23.4 4.6 22.3 5.9C21.5 6.7 20.6 7.3 19.6 7.6"/></g>
<g transform="translate(855 448.8) rotate(-39.3)"><text class="u" x="-5.6" y="-10.6">zhizaoyepaiming.com</text><text class="a" x="-7.4" y="5.3">制造业排名</text><text class="a" x="69.6" y="3.9">数据库</text><path transform="translate(92.1 -1.6)" d="M-23 -3.2C-24 -7 -21 -10.8 -17 -11.2C-15 -11.6 -12.6 -11.4 -11 -10.8C-11.4 -14.5 -9.4 -17.6 -6 -18.6C-2 -19.8 3.5 -18.5 6 -16C7.8 -14.6 9 -13.2 9.9 -11.6C11.5 -12.6 13.5 -13 15.4 -12.6C18 -12.6 20 -11.6 21.2 -10.4C23 -9 24 -7 24.4 -4.7C25.2 -2.6 25.2 -0.8 24.6 1.1C24.2 3 23.4 4.6 22.3 5.9C21.5 6.7 20.6 7.3 19.6 7.6"/></g>
<g transform="translate(876.7 571.1) rotate(-39.3)"><text class="u" x="-5.6" y="-10.6">zhizaoyepaiming.com</text><text class="a" x="-7.4" y="5.3">制造业排名</text><text class="a" x="69.6" y="3.9">数据库</text><path transform="translate(92.1 -1.6)" d="M-23 -3.2C-24 -7 -21 -10.8 -17 -11.2C-15 -11.6 -12.6 -11.4 -11 -10.8C-11.4 -14.5 -9.4 -17.6 -6 -18.6C-2 -19.8 3.5 -18.5 6 -16C7.8 -14.6 9 -13.2 9.9 -11.6C11.5 -12.6 13.5 -13 15.4 -12.6C18 -12.6 20 -11.6 21.2 -10.4C23 -9 24 -7 24.4 -4.7C25.2 -2.6 25.2 -0.8 24.6 1.1C24.2 3 23.4 4.6 22.3 5.9C21.5 6.7 20.6 7.3 19.6 7.6"/></g>
<g transform="translate(912.05 60.3) rotate(-39.3)"><text class="u" x="-5.6" y="-10.6">zhizaoyepaiming.com</text><text class="a" x="-7.4" y="5.3">制造业排名</text><text class="a" x="69.6" y="3.9">数据库</text><path transform="translate(92.1 -1.6)" d="M-23 -3.2C-24 -7 -21 -10.8 -17 -11.2C-15 -11.6 -12.6 -11.4 -11 -10.8C-11.4 -14.5 -9.4 -17.6 -6 -18.6C-2 -19.8 3.5 -18.5 6 -16C7.8 -14.6 9 -13.2 9.9 -11.6C11.5 -12.6 13.5 -13 15.4 -12.6C18 -12.6 20 -11.6 21.2 -10.4C23 -9 24 -7 24.4 -4.7C25.2 -2.6 25.2 -0.8 24.6 1.1C24.2 3 23.4 4.6 22.3 5.9C21.5 6.7 20.6 7.3 19.6 7.6"/></g>
<g transform="translate(933.75 182.6) rotate(-39.3)"><text class="u" x="-5.6" y="-10.6">zhizaoyepaiming.com</text><text class="a" x="-7.4" y="5.3">制造业排名</text><text class="a" x="69.6" y="3.9">数据库</text><path transform="translate(92.1 -1.6)" d="M-23 -3.2C-24 -7 -21 -10.8 -17 -11.2C-15 -11.6 -12.6 -11.4 -11 -10.8C-11.4 -14.5 -9.4 -17.6 -6 -18.6C-2 -19.8 3.5 -18.5 6 -16C7.8 -14.6 9 -13.2 9.9 -11.6C11.5 -12.6 13.5 -13 15.4 -12.6C18 -12.6 20 -11.6 21.2 -10.4C23 -9 24 -7 24.4 -4.7C25.2 -2.6 25.2 -0.8 24.6 1.1C24.2 3 23.4 4.6 22.3 5.9C21.5 6.7 20.6 7.3 19.6 7.6"/></g>
<g transform="translate(955.45 304.9) rotate(-39.3)"><text class="u" x="-5.6" y="-10.6">zhizaoyepaiming.com</text><text class="a" x="-7.4" y="5.3">制造业排名</text><text class="a" x="69.6" y="3.9">数据库</text><path transform="translate(92.1 -1.6)" d="M-23 -3.2C-24 -7 -21 -10.8 -17 -11.2C-15 -11.6 -12.6 -11.4 -11 -10.8C-11.4 -14.5 -9.4 -17.6 -6 -18.6C-2 -19.8 3.5 -18.5 6 -16C7.8 -14.6 9 -13.2 9.9 -11.6C11.5 -12.6 13.5 -13 15.4 -12.6C18 -12.6 20 -11.6 21.2 -10.4C23 -9 24 -7 24.4 -4.7C25.2 -2.6 25.2 -0.8 24.6 1.1C24.2 3 23.4 4.6 22.3 5.9C21.5 6.7 20.6 7.3 19.6 7.6"/></g>
<g transform="translate(977.15 427.2) rotate(-39.3)"><text class="u" x="-5.6" y="-10.6">zhizaoyepaiming.com</text><text class="a" x="-7.4" y="5.3">制造业排名</text><text class="a" x="69.6" y="3.9">数据库</text><path transform="translate(92.1 -1.6)" d="M-23 -3.2C-24 -7 -21 -10.8 -17 -11.2C-15 -11.6 -12.6 -11.4 -11 -10.8C-11.4 -14.5 -9.4 -17.6 -6 -18.6C-2 -19.8 3.5 -18.5 6 -16C7.8 -14.6 9 -13.2 9.9 -11.6C11.5 -12.6 13.5 -13 15.4 -12.6C18 -12.6 20 -11.6 21.2 -10.4C23 -9 24 -7 24.4 -4.7C25.2 -2.6 25.2 -0.8 24.6 1.1C24.2 3 23.4 4.6 22.3 5.9C21.5 6.7 20.6 7.3 19.6 7.6"/></g>
<g transform="translate(998.85 549.5) rotate(-39.3)"><text class="u" x="-5.6" y="-10.6">zhizaoyepaiming.com</text><text class="a" x="-7.4" y="5.3">制造业排名</text><text class="a" x="69.6" y="3.9">数据库</text><path transform="translate(92.1 -1.6)" d="M-23 -3.2C-24 -7 -21 -10.8 -17 -11.2C-15 -11.6 -12.6 -11.4 -11 -10.8C-11.4 -14.5 -9.4 -17.6 -6 -18.6C-2 -19.8 3.5 -18.5 6 -16C7.8 -14.6 9 -13.2 9.9 -11.6C11.5 -12.6 13.5 -13 15.4 -12.6C18 -12.6 20 -11.6 21.2 -10.4C23 -9 24 -7 24.4 -4.7C25.2 -2.6 25.2 -0.8 24.6 1.1C24.2 3 23.4 4.6 22.3 5.9C21.5 6.7 20.6 7.3 19.6 7.6"/></g>
<g transform="translate(1034.2 38.7) rotate(-39.3)"><text class="u" x="-5.6" y="-10.6">zhizaoyepaiming.com</text><text class="a" x="-7.4" y="5.3">制造业排名</text><text class="a" x="69.6" y="3.9">数据库</text><path transform="translate(92.1 -1.6)" d="M-23 -3.2C-24 -7 -21 -10.8 -17 -11.2C-15 -11.6 -12.6 -11.4 -11 -10.8C-11.4 -14.5 -9.4 -17.6 -6 -18.6C-2 -19.8 3.5 -18.5 6 -16C7.8 -14.6 9 -13.2 9.9 -11.6C11.5 -12.6 13.5 -13 15.4 -12.6C18 -12.6 20 -11.6 21.2 -10.4C23 -9 24 -7 24.4 -4.7C25.2 -2.6 25.2 -0.8 24.6 1.1C24.2 3 23.4 4.6 22.3 5.9C21.5 6.7 20.6 7.3 19.6 7.6"/></g>
</g>
</svg>
</body></html>
